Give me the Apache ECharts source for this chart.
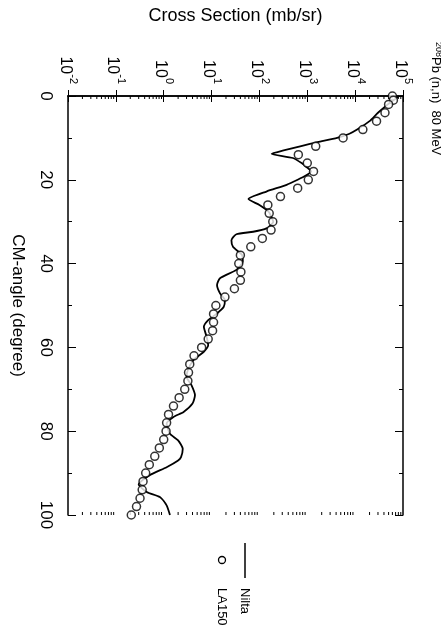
<!DOCTYPE html>
<html>
<head>
<meta charset="utf-8">
<script src="https://cdn.jsdelivr.net/npm/echarts@6/dist/echarts.min.js"></script>
<style>
  html, body { margin: 0; padding: 0; background: #fff; }
  #chart { width: 441px; height: 640px; }
</style>
</head>
<body>
<div id="chart"></div>
<script>
// 208Pb(n,n) elastic scattering at 80 MeV: Nilta calculation vs LA150 evaluation
const niltaAngle = [0, 1, 2, 4, 6, 8, 9, 10, 11, 12, 13, 13.8, 14.8, 16, 17, 18, 19, 20, 21.2, 22.8,
  24.6, 26, 27.6, 29, 30, 31.6, 32.4, 33, 34.4, 36, 37.9, 39.5, 41.5, 43.5, 45.1, 47.1, 48.7, 50.3,
  51.9, 53.5, 55.1, 57.5, 59.5, 61.1, 63, 65.4, 67, 69, 71.4, 73.4, 75.4, 76.6, 78.2, 80.6, 82.2,
  84.2, 86.2, 87, 88.6, 90.5, 92.7, 94.5, 95.7, 97.7, 100];
const niltaSigma = [83000, 63000, 48000, 30000, 20000, 11000, 7600, 4200, 1650, 710, 320, 180, 500,
  760, 980, 1200, 930, 630, 370, 140, 59, 100, 155, 180, 195, 140, 74, 33, 26, 28, 43, 45, 33, 15,
  13, 15, 19, 18, 13, 8.5, 6.9, 7.9, 8.5, 6.8, 4.2, 3.2, 3.0, 3.8, 4.5, 4.0, 2.6, 1.6, 1.15, 1.35,
  2.0, 2.5, 2.3, 2.0, 1.15, 0.51, 0.30, 0.44, 0.83, 1.15, 1.35];

const la150Angle = [0, 1, 2, 4, 6, 8, 10, 12, 14, 16, 18, 20, 22, 24, 26, 28, 30, 32, 34, 36, 38,
  40, 42, 44, 46, 48, 50, 52, 54, 56, 58, 60, 62, 64, 66, 68, 70, 72, 74, 76, 78, 80, 82, 84, 86,
  88, 90, 92, 94, 96, 98, 100];
const la150Sigma = [60000, 63000, 50000, 42000, 28000, 14500, 5600, 1500, 650, 1000, 1350, 1050,
  630, 275, 150, 160, 190, 175, 115, 66, 40, 37, 41, 40, 30, 19, 12.3, 11, 11, 10.5, 8.5, 6.2, 4.3,
  3.5, 3.3, 3.2, 2.75, 2.1, 1.6, 1.26, 1.15, 1.12, 1.0, 0.81, 0.65, 0.50, 0.42, 0.37, 0.355, 0.32,
  0.27, 0.21];

// axis ranges and labels
const sigmaExponents = [-2, -1, 0, 1, 2, 3, 4, 5];
const angleTicks = [0, 20, 40, 60, 80, 100];
const minorMultipliers = [2, 3, 4, 5, 6, 7, 8, 9];

const sigmaMin = Math.pow(10, sigmaExponents[0]);
const sigmaMax = Math.pow(10, sigmaExponents[sigmaExponents.length - 1]);

const pairs = (xs, ys) => xs.map((a, i) => [ys[i], a]);

// positions of the logarithmic minor ticks (2..9 within each decade)
const minorTickValues = [];
for (let i = 0; i < sigmaExponents.length - 1; i++) {
  for (const m of minorMultipliers) {
    minorTickValues.push([m * Math.pow(10, sigmaExponents[i]), 0]);
  }
}

const FONT = 'Liberation Sans, Arial, sans-serif';
const axisLineStyle = { color: '#000', width: 1.5 };

const chart = echarts.init(document.getElementById('chart'), null, { renderer: 'canvas' });

const logAxisBase = {
  type: 'log',
  logBase: 10,
  min: sigmaMin,
  max: sigmaMax,
  interval: 1,
  gridIndex: 0,
  splitLine: { show: false },
  axisLine: { show: true, lineStyle: axisLineStyle },
  axisTick: { show: true, inside: true, length: 6, lineStyle: { color: '#000', width: 1 } }
};

const angleAxisBase = {
  type: 'value',
  min: angleTicks[0],
  max: angleTicks[angleTicks.length - 1],
  interval: 20,
  inverse: true,
  gridIndex: 0,
  splitLine: { show: false },
  axisLine: { show: true, lineStyle: axisLineStyle },
  axisTick: { show: true, inside: true, length: 8, lineStyle: { color: '#000', width: 1 } },
  minorTick: { show: true, splitNumber: 2, length: 4, lineStyle: { color: '#000', width: 1 } }
};

const option = {
  backgroundColor: '#fff',
  animation: false,
  grid: { left: 68, right: 38, top: 96, bottom: 125, containLabel: false },
  xAxis: [
    Object.assign({}, logAxisBase, {
      position: 'top',
      name: 'Cross Section (mb/sr)',
      nameLocation: 'middle',
      nameGap: 71,
      nameRotate: 0,
      nameTextStyle: { fontFamily: FONT, fontSize: 18, color: '#000' },
      axisLabel: {
        show: true,
        rotate: -90,
        margin: 12,
        color: '#000',
        formatter: v => '{b|10}{s|' + Math.round(Math.log10(v)) + '}',
        rich: {
          b: { fontFamily: FONT, fontSize: 16, color: '#000', verticalAlign: 'bottom', lineHeight: 22 },
          s: { fontFamily: FONT, fontSize: 11, color: '#000', verticalAlign: 'top', lineHeight: 12 }
        }
      }
    }),
    Object.assign({}, logAxisBase, {
      position: 'bottom',
      axisLabel: { show: false }
    })
  ],
  yAxis: [
    Object.assign({}, angleAxisBase, {
      position: 'left',
      name: 'CM-angle (degree)',
      nameLocation: 'middle',
      nameGap: 42,
      nameRotate: -90,
      nameTextStyle: { fontFamily: FONT, fontSize: 17, color: '#000' },
      axisLabel: {
        show: true,
        rotate: -90,
        margin: 14,
        color: '#000',
        fontFamily: FONT,
        fontSize: 17
      }
    }),
    Object.assign({}, angleAxisBase, {
      position: 'right',
      axisLabel: { show: false }
    })
  ],
  graphic: [
    {
      type: 'text',
      x: 436, y: 42,
      rotation: -Math.PI / 2,
      style: {
        text: '{sup|208}Pb (n,n)  80 MeV',
        fill: '#000',
        font: '13px ' + FONT,
        align: 'left',
        verticalAlign: 'middle',
        rich: {
          sup: { fontSize: 9, verticalAlign: 'top', fontFamily: FONT }
        }
      }
    },
    { type: 'line', shape: { x1: 245, y1: 543, x2: 245, y2: 578 }, style: { stroke: '#000', lineWidth: 1.5 } },
    {
      type: 'text', x: 245, y: 588, rotation: -Math.PI / 2,
      style: { text: 'Nilta', fill: '#000', font: '13px ' + FONT, align: 'left', verticalAlign: 'middle' }
    },
    { type: 'circle', shape: { cx: 222, cy: 560, r: 3.5 }, style: { fill: '#fff', stroke: '#000', lineWidth: 1.3 } },
    {
      type: 'text', x: 222, y: 588, rotation: -Math.PI / 2,
      style: { text: 'LA150', fill: '#000', font: '13px ' + FONT, align: 'left', verticalAlign: 'middle' }
    }
  ],
  series: [
    {
      name: 'Nilta',
      type: 'line',
      xAxisIndex: 0,
      yAxisIndex: 0,
      data: pairs(niltaAngle, niltaSigma),
      showSymbol: false,
      symbol: 'none',
      smooth: 0.2,
      lineStyle: { color: '#000', width: 1.8 },
      clip: false,
      z: 3
    },
    {
      name: 'LA150',
      type: 'scatter',
      xAxisIndex: 0,
      yAxisIndex: 0,
      data: pairs(la150Angle, la150Sigma),
      symbol: 'circle',
      symbolSize: 8,
      itemStyle: { color: '#fff', borderColor: '#000', borderWidth: 1.5 },
      clip: false,
      z: 4
    },
    {
      // logarithmic minor ticks on the top and bottom frame
      type: 'custom',
      xAxisIndex: 0,
      yAxisIndex: 0,
      data: minorTickValues,
      silent: true,
      clip: false,
      renderItem: (params, api) => {
        const top = api.coord([api.value(0), angleTicks[0]]);
        const bot = api.coord([api.value(0), angleTicks[angleTicks.length - 1]]);
        const st = { stroke: '#000', lineWidth: 1 };
        return {
          type: 'group',
          children: [
            { type: 'line', shape: { x1: top[0], y1: top[1], x2: top[0], y2: top[1] + 3 }, style: st },
            { type: 'line', shape: { x1: bot[0], y1: bot[1], x2: bot[0], y2: bot[1] - 3 }, style: st }
          ]
        };
      }
    }
  ]
};

chart.setOption(option);
</script>
</body>
</html>
